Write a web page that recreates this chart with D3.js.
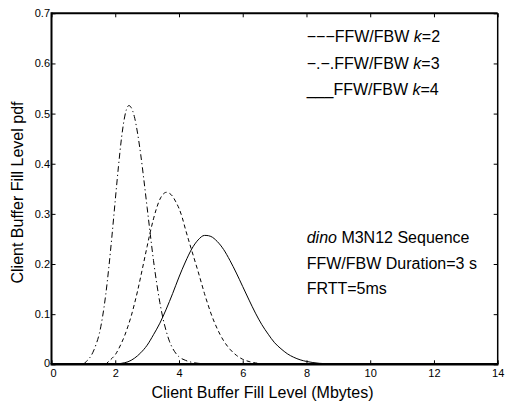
<!DOCTYPE html>
<html>
<head>
<meta charset="utf-8">
<script src="https://cdn.jsdelivr.net/npm/d3@7"></script>
<style>
  body { margin: 0; background: #fff; }
  svg { display: block; font-family: "Liberation Sans", Arial, Helvetica, sans-serif; }
</style>
</head>
<body>
<div id="chart"></div>
<script>
// values
const xK3 = [1.0, 1.1, 1.2, 1.3, 1.4, 1.5, 1.6, 1.7, 1.8, 1.9, 2.0, 2.1, 2.2, 2.3, 2.4, 2.43,
  2.5, 2.6, 2.7, 2.8, 2.9, 3.0, 3.1, 3.2, 3.3, 3.4, 3.5, 3.6, 3.7, 3.8, 3.9, 4.0, 4.2, 4.4, 4.6, 4.8, 5.0];
const yK3 = [0, 0.006, 0.013, 0.024, 0.04, 0.061, 0.094, 0.138, 0.194, 0.258, 0.327, 0.394, 0.453, 0.495, 0.515, 0.516,
  0.512, 0.494, 0.461, 0.418, 0.367, 0.313, 0.259, 0.207, 0.162, 0.123, 0.091, 0.066, 0.046, 0.032, 0.022, 0.015, 0.008, 0.004, 0.002, 0.001, 0];

const xK2 = [1.7, 1.8, 1.9, 2.0, 2.1, 2.2, 2.3, 2.4, 2.5, 2.6, 2.7, 2.8, 2.9, 3.0, 3.1, 3.2, 3.3, 3.4, 3.5, 3.6,
  3.7, 3.8, 3.9, 4.0, 4.1, 4.2, 4.3, 4.4, 4.5, 4.6, 4.7, 4.8, 4.9, 5.0, 5.2, 5.4, 5.6, 5.8, 6.0, 6.2, 6.4, 6.6, 6.8, 7.0];
const yK2 = [0, 0.006, 0.012, 0.019, 0.03, 0.043, 0.058, 0.076, 0.096, 0.12, 0.146, 0.175, 0.205, 0.235, 0.264, 0.29, 0.312, 0.329, 0.339, 0.343,
  0.341, 0.335, 0.324, 0.311, 0.293, 0.27, 0.248, 0.227, 0.206, 0.185, 0.163, 0.141, 0.121, 0.102, 0.071, 0.047, 0.03, 0.018, 0.01, 0.0055, 0.0028, 0.0012, 0.0005, 0];

const xK4 = [2.0, 2.2, 2.4, 2.6, 2.8, 3.0, 3.2, 3.4, 3.6, 3.8, 4.0, 4.2, 4.4, 4.6, 4.8, 4.85,
  5.0, 5.2, 5.4, 5.6, 5.8, 6.0, 6.2, 6.4, 6.6, 6.8, 7.0, 7.2, 7.4, 7.6, 7.8, 8.0, 8.2, 8.4, 8.6, 8.8, 9.0, 9.5, 10.0];
const yK4 = [0, 0.002, 0.005, 0.012, 0.023, 0.038, 0.059, 0.082, 0.11, 0.141, 0.174, 0.204, 0.23, 0.248, 0.257, 0.257,
  0.255, 0.245, 0.229, 0.207, 0.182, 0.155, 0.128, 0.102, 0.079, 0.06, 0.043, 0.031, 0.021, 0.014, 0.009, 0.0057, 0.0035, 0.002, 0.0012, 0.0007, 0.0004, 0.0001, 0];

const xTicks = [0, 2, 4, 6, 8, 10, 12, 14];
const yTicks = [0, 0.1, 0.2, 0.3, 0.4, 0.5, 0.6, 0.7];

const legendLines = [
  { mark: "\u2212\u2212\u2212", label: "FFW/FBW ", k: "2" },
  { mark: "\u2212.\u2212.", label: "FFW/FBW ", k: "3" },
  { mark: "___", label: "FFW/FBW ", k: "4" },
];

const width = 505, height = 404;
const plot = { left: 51.5, right: 497.7, top: 13.3, bottom: 364.3 };

const svg = d3.select("#chart").append("svg")
  .attr("width", width).attr("height", height);

const x = d3.scaleLinear().domain([0, 14]).range([plot.left, plot.right]);
const y = d3.scaleLinear().domain([0, 0.7]).range([plot.bottom, plot.top]);

// axes, ticks pointing inward
const xAxis = svg.append("g")
  .attr("transform", `translate(0,${plot.bottom})`)
  .call(d3.axisBottom(x).tickValues(xTicks).tickSize(-4).tickPadding(5).tickFormat(d3.format("d")));
const xAxisTop = svg.append("g")
  .attr("transform", `translate(0,${plot.top})`)
  .call(d3.axisTop(x).tickValues(xTicks).tickSize(-4).tickFormat(""));
const yAxis = svg.append("g")
  .attr("transform", `translate(${plot.left},0)`)
  .call(d3.axisLeft(y).tickValues(yTicks).tickSize(-4).tickPadding(1.5)
    .tickFormat(d => d === 0 ? "0" : d3.format(".1f")(d)));
const yAxisRight = svg.append("g")
  .attr("transform", `translate(${plot.right},0)`)
  .call(d3.axisRight(y).tickValues(yTicks).tickSize(-4).tickFormat(""));

[xAxis, xAxisTop, yAxis, yAxisRight].forEach(a => {
  a.select(".domain").remove();
  a.selectAll("line").attr("stroke", "#000").attr("stroke-width", 1);
  a.selectAll("text").attr("fill", "#000").style("font-size", "11px")
    .style("font-family", "'Liberation Sans', Arial, sans-serif");
});
// the x tick "0" sits a bit right of the y "0"
xAxis.selectAll("text").filter(d => d === 0).attr("x", 1.5);
yAxis.selectAll("text").filter(d => d === 0).attr("dy", "0.18em");

// frame
const frame = svg.append("g").attr("stroke", "#000").attr("fill", "none");
frame.append("line").attr("x1", plot.left).attr("x2", plot.right).attr("y1", plot.top).attr("y2", plot.top).attr("stroke-width", 2);
frame.append("line").attr("x1", plot.right).attr("x2", plot.right).attr("y1", plot.top).attr("y2", plot.bottom).attr("stroke-width", 1.5);
frame.append("line").attr("x1", plot.left).attr("x2", plot.left).attr("y1", plot.top - 1).attr("y2", plot.bottom).attr("stroke-width", 2);
frame.append("line").attr("x1", plot.left - 1).attr("x2", plot.right + 0.75).attr("y1", plot.bottom).attr("y2", plot.bottom).attr("stroke-width", 2.5);

// curves
const line = d3.line().x(d => x(d[0])).y(d => y(d[1])).curve(d3.curveMonotoneX);
const series = [
  { xs: xK2, ys: yK2, dash: "4,3" },
  { xs: xK3, ys: yK3, dash: "6,3,1.2,3" },
  { xs: xK4, ys: yK4, dash: null },
];
series.forEach(s => {
  svg.append("path")
    .datum(s.xs.map((v, i) => [v, s.ys[i]]))
    .attr("fill", "none")
    .attr("stroke", "#000")
    .attr("stroke-width", 1)
    .attr("stroke-dasharray", s.dash)
    .attr("d", line);
});

// legend text
const legendY = [41.7, 68.5, 95];
legendLines.forEach((l, i) => {
  const t = svg.append("text")
    .attr("x", 306.7).attr("y", legendY[i])
    .style("font-size", "16px").attr("fill", "#000");
  t.append("tspan").text(l.mark + l.label);
  t.append("tspan").style("font-style", "italic").text("k");
  t.append("tspan").text("=" + l.k);
});

// annotation
const note = svg.append("g").style("font-size", "16px").attr("fill", "#000");
const n1 = note.append("text").attr("x", 306.7).attr("y", 243.3);
n1.append("tspan").style("font-style", "italic").text("dino");
n1.append("tspan").text(" M3N12 Sequence");
note.append("text").attr("x", 306.7).attr("y", 269).text("FFW/FBW Duration=3 s");
note.append("text").attr("x", 306.7).attr("y", 294).text("FRTT=5ms");

// axis titles
svg.append("text")
  .attr("x", 151.5).attr("y", 397.5)
  .style("font-size", "16px").attr("fill", "#000")
  .text("Client Buffer Fill Level (Mbytes)");
svg.append("text")
  .attr("transform", "translate(22.5,192.5) rotate(-90)")
  .attr("text-anchor", "middle")
  .style("font-size", "16px").attr("fill", "#000")
  .text("Client Buffer Fill Level pdf");
</script>
</body>
</html>
